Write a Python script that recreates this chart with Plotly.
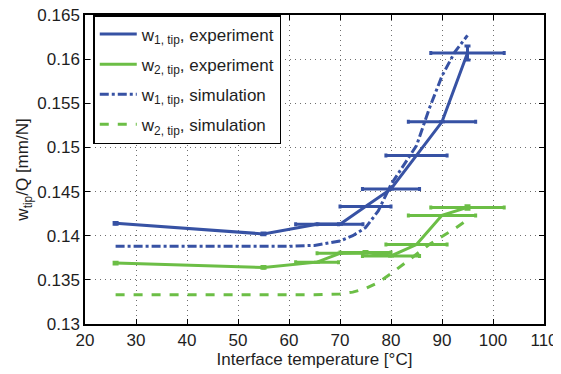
import plotly.graph_objects as go

# Experiment data
temp_exp = [26, 55, 65.5, 70, 75, 80, 85, 90, 95]
w1_exp = [0.1414, 0.1402, 0.1413, 0.1413, 0.1433, 0.1453, 0.1491, 0.1529, 0.1607]
w2_exp = [0.1369, 0.1364, 0.1370, 0.1380, 0.1381, 0.1377, 0.1390, 0.1423, 0.1432]
temp_err = [0, 0, 4.2, 4.5, 5.0, 5.6, 6.0, 6.6, 7.2]
w1_err = [0.0001, 0.0001, 0, 0, 0, 0, 0, 0, 0.0008]
w2_err = [0.0001, 0.0001, 0, 0, 0.0001, 0, 0, 0, 0.0002]

# Simulation data
temp_sim = [26, 40, 50, 60, 65, 70, 72.5, 75, 77.5, 80, 82.5, 85, 87.5, 90, 92.5, 95]
w1_sim = [0.1388, 0.1388, 0.1388, 0.1388, 0.1389, 0.1394, 0.1400, 0.1409, 0.1428,
          0.1458, 0.1480, 0.1502, 0.1544, 0.1581, 0.1608, 0.1627]
w2_sim = [0.1333, 0.1333, 0.1333, 0.1333, 0.1333, 0.1334, 0.1336, 0.1340, 0.1347,
          0.1357, 0.1368, 0.1379, 0.1390, 0.1399, 0.1408, 0.1418]

x_ticks = [20, 30, 40, 50, 60, 70, 80, 90, 100, 110]
y_ticks = [0.13, 0.135, 0.14, 0.145, 0.15, 0.155, 0.16, 0.165]
y_tick_labels = ["0.13", "0.135", "0.14", "0.145", "0.15", "0.155", "0.16", "0.165"]

BLUE = "rgb(55,82,164)"
GREEN = "rgb(108,190,70)"
FONT = "Liberation Sans"
FS = 17

fig = go.Figure()
fig.add_trace(go.Scatter(
    x=temp_exp, y=w1_exp, mode="lines", legendgroup="a",
    line=dict(color=BLUE, width=3),
    error_x=dict(type="data", array=temp_err, visible=True, color=BLUE, thickness=3, width=2),
    error_y=dict(type="data", array=w1_err, visible=True, color=BLUE, thickness=3, width=3),
    name="w<sub>1, tip</sub>, experiment"))
fig.add_trace(go.Scatter(
    x=temp_exp, y=w2_exp, mode="lines", legendgroup="b",
    line=dict(color=GREEN, width=3),
    error_x=dict(type="data", array=temp_err, visible=True, color=GREEN, thickness=3, width=2),
    error_y=dict(type="data", array=w2_err, visible=True, color=GREEN, thickness=3, width=3),
    name="w<sub>2, tip</sub>, experiment"))
fig.add_trace(go.Scatter(
    x=temp_sim, y=w1_sim, mode="lines", legendgroup="c",
    line=dict(color=BLUE, width=3, dash="dashdot"),
    name="w<sub>1, tip</sub>, simulation"))
fig.add_trace(go.Scatter(
    x=temp_sim, y=w2_sim, mode="lines", legendgroup="d",
    line=dict(color=GREEN, width=3, dash="dash"),
    name="w<sub>2, tip</sub>, simulation"))

axis_common = dict(
    showline=True, linecolor="black", linewidth=1.5, mirror="allticks",
    ticks="inside", ticklen=5, tickcolor="black",
    showgrid=True, gridcolor="rgb(110,110,110)", griddash="1px,4px", gridwidth=1,
    zeroline=False, automargin=False, ticklabeloverflow="allow",
    tickfont=dict(size=FS, color="rgb(30,30,30)", family=FONT),
)

# page body has an 8px margin, so the figure is slightly smaller than the window
fig.update_layout(
    width=553, height=366,
    margin=dict(l=77, r=17, t=7, b=50, autoexpand=False),
    paper_bgcolor="white", plot_bgcolor="white",
    font=dict(family=FONT, size=FS, color="rgb(30,30,30)"),
    xaxis=dict(range=[19.999, 110.001], tickvals=x_ticks,
               title=dict(text="Interface temperature [°C]", font=dict(size=FS), standoff=0),
               **axis_common),
    yaxis=dict(range=[0.12999, 0.16501], tickvals=y_ticks, ticktext=y_tick_labels,
               title=dict(text="w<sub>tip</sub>/Q [mm/N]", font=dict(size=FS), standoff=4),
               **axis_common),
    legend=dict(x=0.018, y=1, xanchor="left", yanchor="top",
                bgcolor="white", bordercolor="black", borderwidth=1.5,
                font=dict(size=FS, family=FONT), tracegroupgap=5, itemwidth=37),
    showlegend=True,
)

fig.write_html("out.html")
